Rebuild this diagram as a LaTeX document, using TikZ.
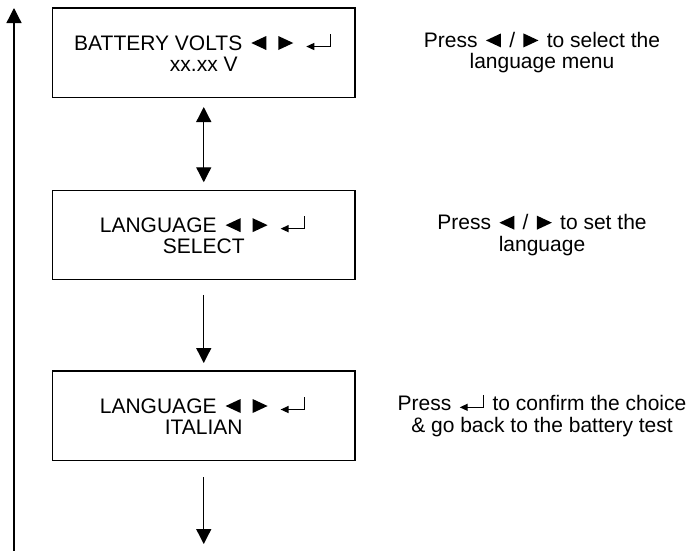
\documentclass[tikz,border=0pt]{standalone}
\usepackage{fontspec}
\setmainfont{Liberation Sans}
\usetikzlibrary{arrows.meta}
\newcommand{\symL}{\tikz[baseline=0pt,x=1pt,y=1pt]{\useasboundingbox (-2.5,0) rectangle (17.5,14); \fill (0,7) -- (15,14) -- (15,0) -- cycle;}}
\newcommand{\symR}{\tikz[baseline=0pt,x=1pt,y=1pt]{\useasboundingbox (-2.5,0) rectangle (17.5,14); \fill (0,0) -- (15,7) -- (0,14) -- cycle;}}
\newcommand{\symRet}{\tikz[baseline=0pt,x=1pt,y=1pt]{\useasboundingbox (-2.5,0) rectangle (27,16); \draw[line width=1.3pt,-{Triangle[length=8pt,width=7pt]}] (24,16) -- (24,3.5) -- (0,3.5);}}
\begin{document}
\begin{tikzpicture}[x=1pt,y=-1pt,
  font=\fontsize{21}{21.5}\selectfont,
  box/.style={draw, line width=1.4pt, minimum width=302.5pt, minimum height=89.5pt, inner sep=0pt, align=center},
  note/.style={align=center, inner sep=0pt},
  conn/.style={line width=1.3pt, -{Triangle[length=15pt,width=15pt]}},
  dconn/.style={line width=1.3pt, {Triangle[length=15pt,width=15pt]}-{Triangle[length=15pt,width=15pt]}}]
\useasboundingbox (0,0) rectangle (695,550);
\node[box] (b1) at (203.75,52.75) {BATTERY VOLTS\hspace{6.5pt}\symL\hspace{7pt}\symR\hspace{8pt}\symRet\\xx.xx V};
\node[box] (b2) at (203.75,235) {LANGUAGE\hspace{6.5pt}\symL\hspace{7pt}\symR\hspace{8pt}\symRet\\SELECT};
\node[box] (b3) at (203.75,415.75) {LANGUAGE\hspace{6.5pt}\symL\hspace{7pt}\symR\hspace{8pt}\symRet\\ITALIAN};
\node[note] (t1) at (542,52.75) {Press \symL{} / \symR{} to select the\\language menu};
\node[note] (t2) at (542,235) {Press \symL{} / \symR{} to set the\\language};
\node[note] (t3) at (542,415.75) {Press \symRet{} to confirm the choice\\\& go back to the battery test};
\coordinate (end) at (203.75,544);
\coordinate (ls) at (14,551);
\coordinate (le) at (14,8);
\draw[dconn, shorten <=8.8pt, shorten >=7.3pt] (b1) -- (b2);
\draw[conn, shorten <=14.3pt, shorten >=7.3pt] (b2) -- (b3);
\draw[conn, shorten <=15.8pt] (b3) -- (end);
\draw[conn] (ls) -- (le);
\end{tikzpicture}
\end{document}
